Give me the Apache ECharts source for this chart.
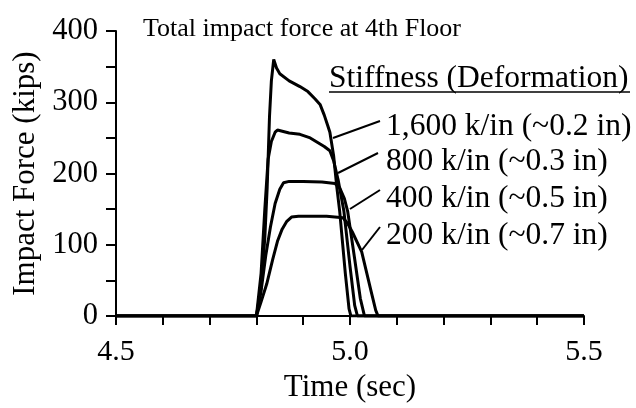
<!DOCTYPE html>
<html>
	<head>
		<meta charset="utf-8">
		<title></title>
		<script src="https://cdn.jsdelivr.net/npm/echarts@6/dist/echarts.min.js"></script>
	</head>
	<body style="margin:0">
		<div id="main" style="width: 636px;height:408px;"></div>
		<script>
			// time (sec) and force (kips) for each stiffness
			var t1600 = [4.5, 4.8, 4.81, 4.818, 4.823, 4.828, 4.832, 4.837, 4.843, 4.85, 4.87, 4.893, 4.91, 4.925, 4.936, 4.945, 4.952, 4.957, 4.965, 4.972, 4.978, 4.99, 4.998, 5.002, 5.5];
			var f1600 = [0, 0, 40, 110, 180, 280, 330, 360, 348, 340, 330, 322, 315, 305, 297, 282, 268, 258, 225, 180, 147, 60, 10, 0, 0];
			var t800 = [4.5, 4.8, 4.81, 4.818, 4.825, 4.832, 4.84, 4.845, 4.87, 4.893, 4.915, 4.93, 4.945, 4.957, 4.965, 4.975, 4.987, 5.0, 5.01, 5.016, 5.5];
			var f800 = [0, 0, 60, 150, 220, 245, 258, 261, 257, 255, 250, 244, 238, 232, 218, 190, 147, 70, 15, 0, 0];
			var t400 = [4.5, 4.8, 4.81, 4.82, 4.83, 4.84, 4.85, 4.858, 4.87, 4.9, 4.94, 4.968, 4.978, 4.988, 4.995, 5.01, 5.022, 5.031, 5.5];
			var f400 = [0, 0, 35, 85, 125, 158, 178, 187, 189, 189, 188, 186, 180, 165, 147, 80, 25, 0, 0];
			var t200 = [4.5, 4.8, 4.81, 4.822, 4.835, 4.845, 4.855, 4.865, 4.875, 4.89, 4.95, 4.985, 4.995, 5.005, 5.025, 5.045, 5.055, 5.06, 5.5];
			var f200 = [0, 0, 20, 45, 80, 105, 122, 133, 139, 140, 140, 138, 130, 118, 90, 35, 8, 0, 0];

			var labels = ['1,600 k/in (~0.2 in)', '800 k/in (~0.3 in)', '400 k/in (~0.5 in)', '200 k/in (~0.7 in)'];

			function pairs(t, f) {
				return t.map(function(x, i) { return [x, f[i]]; });
			}
			var font = 'Liberation Serif';
			var myChart = echarts.init(document.getElementById('main'));

			function line(name, t, f) {
				return {
					name: name,
					type: 'line',
					data: pairs(t, f),
					showSymbol: false,
					lineStyle: { color: '#000', width: 3 },
					itemStyle: { color: '#000' }
				};
			}

			var textStyle = { fontFamily: font, fontSize: 31.5, fontWeight: 'normal', color: '#000', lineHeight: 32 };
			// annotation texts drawn as extra titles
			var titles = [{
				text: 'Total impact force at 4th Floor',
				left: 297,
				textAlign: 'center',
				top: 11,
				textStyle: { fontFamily: font, fontSize: 26, fontWeight: 'normal', color: '#000' }
			}, {
				text: 'Stiffness (Deformation)', left: 329, top: 79 - 16, padding: 0, textStyle: textStyle
			}];
			var labelY = [127, 162, 199, 236];
			labels.forEach(function(s, i) {
				titles.push({ text: s, left: 386, top: labelY[i] - 16, padding: 0, textStyle: textStyle });
			});

			// leader lines: text end -> curve
			var leaders = [[380, 121, 333, 138], [378, 153, 338, 173], [380, 190, 350, 209], [380, 227, 362, 250]];
			var graphics = [{
				type: 'line', shape: { x1: 329, y1: 92, x2: 630, y2: 92 },
				style: { stroke: '#000', lineWidth: 1.5 }
			}];
			leaders.forEach(function(l) {
				graphics.push({
					type: 'line', shape: { x1: l[0], y1: l[1], x2: l[2], y2: l[3] },
					style: { stroke: '#000', lineWidth: 2 }
				});
			});

			var option = {
				animation: false,
				backgroundColor: '#fff',
				title: titles,
				grid: { left: 116, right: 52, top: 31, bottom: 89, containLabel: false },
				xAxis: {
					type: 'value',
					min: 4.5,
					max: 5.5,
					interval: 0.5,
					name: 'Time (sec)',
					nameLocation: 'middle',
					nameGap: 55,
					nameTextStyle: { fontFamily: font, fontSize: 31, color: '#000' },
					axisLine: { lineStyle: { color: '#000', width: 2 } },
					axisTick: { length: 9, lineStyle: { color: '#000', width: 2 } },
					minorTick: { show: true, splitNumber: 5, length: 9, lineStyle: { color: '#000', width: 2 } },
					axisLabel: { fontFamily: font, fontSize: 30, color: '#000', margin: 21,
						formatter: function(v) { return v.toFixed(1); } },
					splitLine: { show: false }
				},
				yAxis: {
					type: 'value',
					min: 0,
					max: 400,
					interval: 100,
					name: 'Impact Force (kips)',
					nameLocation: 'middle',
					nameGap: 74,
					nameTextStyle: { fontFamily: font, fontSize: 31, color: '#000' },
					axisLine: { show: true, lineStyle: { color: '#000', width: 2 } },
					axisTick: { show: true, length: 10, lineStyle: { color: '#000', width: 2 } },
					minorTick: { show: true, splitNumber: 2, length: 10, lineStyle: { color: '#000', width: 2 } },
					axisLabel: { fontFamily: font, fontSize: 30.5, color: '#000', margin: 18 },
					splitLine: { show: false }
				},
				series: [
					line(labels[0], t1600, f1600),
					line(labels[1], t800, f800),
					line(labels[2], t400, f400),
					line(labels[3], t200, f200)
				],
				graphic: graphics
			};
			myChart.setOption(option);
		</script>
	</body>
</html>
